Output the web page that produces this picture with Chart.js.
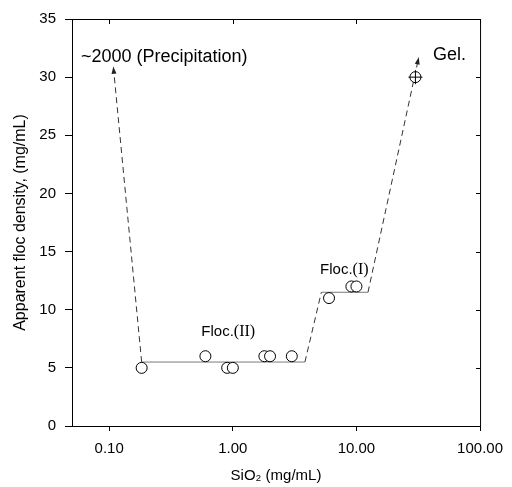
<!DOCTYPE html>
<html>
<head>
<meta charset="utf-8">
<script src="https://cdn.jsdelivr.net/npm/chart.js@4.4.1/dist/chart.umd.min.js"></script>
<style>
  html, body { margin: 0; padding: 0; background: #fff; }
  canvas { display: block; }
</style>
</head>
<body>
<canvas id="chart" width="512" height="487"></canvas>
<script>
// measured points
const silica = [0.183, 0.6, 0.9, 1.0, 1.8, 2.0, 3.0, 6.0, 9.1, 10.0, 30];
const density = [5, 6, 5, 5, 6, 6, 6, 11, 12, 12, 30];

// guide lines drawn through the data
const plateauIIx = [0.183, 3.83];
const plateauIIy = [5.5, 5.5];
const riseIIx = [3.83, 5.2];
const riseIIy = [5.5, 11.5];
const plateauIx = [5.2, 12.4];
const plateauIy = [11.5, 11.5];
const gelX = [12.4, 31.9];
const gelY = [11.5, 31.7];
const precipX = [0.183, 0.108];
const precipY = [5.5, 30.9];

const xTicks = [0.1, 1, 10, 100];
const yTicks = [0, 5, 10, 15, 20, 25, 30, 35];

const pts = (xs, ys) => xs.map((x, i) => ({ x: x, y: ys[i] }));

const FONT = "'Liberation Sans', Arial, sans-serif";

function lineSet(xs, ys, color, dashed, arrow) {
  return {
    data: pts(xs, ys),
    showLine: true,
    borderColor: color,
    borderWidth: 1,
    borderDash: dashed ? [6, 4] : [],
    pointRadius: 0,
    pointHoverRadius: 0,
    arrow: arrow,
    order: 2
  };
}

const extras = {
  id: "extras",
  afterDatasetsDraw(chart) {
    const ctx = chart.ctx;
    const xs = chart.scales.x, ys = chart.scales.y;
    const a = chart.chartArea;

    // arrow heads
    chart.data.datasets.forEach((ds, i) => {
      if (!ds.arrow) return;
      const els = chart.getDatasetMeta(i).data;
      const p0 = els[els.length - 2], p1 = els[els.length - 1];
      const ang = Math.atan2(p1.y - p0.y, p1.x - p0.x);
      ctx.save();
      ctx.translate(p1.x, p1.y);
      ctx.rotate(ang);
      ctx.fillStyle = "#222";
      ctx.beginPath();
      ctx.moveTo(0, 0);
      ctx.lineTo(-7, -2.5);
      ctx.lineTo(-7, 2.5);
      ctx.closePath();
      ctx.fill();
      ctx.restore();
    });

    // frame on top and right, with inward ticks
    ctx.save();
    ctx.strokeStyle = "#000";
    ctx.lineWidth = 1;
    ctx.beginPath();
    ctx.moveTo(a.left, a.top + 0.5);
    ctx.lineTo(a.right + 0.5, a.top + 0.5);
    ctx.lineTo(a.right + 0.5, a.bottom);
    xTicks.forEach(v => {
      const px = Math.round(xs.getPixelForValue(v)) + 0.5;
      ctx.moveTo(px, a.top);
      ctx.lineTo(px, a.top + 5);
    });
    yTicks.forEach(v => {
      const py = Math.round(ys.getPixelForValue(v)) + 0.5;
      ctx.moveTo(a.right, py);
      ctx.lineTo(a.right - 4, py);
    });
    ctx.stroke();

    // annotations
    ctx.fillStyle = "#000";
    ctx.textBaseline = "middle";
    ctx.textAlign = "left";
    ctx.font = "18px " + FONT;
    ctx.fillText("~2000 (Precipitation)", xs.getPixelForValue(0.059), ys.getPixelForValue(31.7));
    ctx.fillText("Gel.", xs.getPixelForValue(41.7), ys.getPixelForValue(31.9));

    const floc = (x, y, num) => {
      let px = xs.getPixelForValue(x);
      const py = ys.getPixelForValue(y);
      ctx.font = "15px " + FONT;
      ctx.fillText("Floc.", px, py);
      px += ctx.measureText("Floc.").width;
      ctx.font = "16px 'Liberation Serif', 'Times New Roman', serif";
      ctx.fillText("(" + num + ")", px, py);
    };
    floc(0.556, 8.1, "II");
    floc(5.08, 13.4, "I");
    ctx.restore();
  }
};

new Chart(document.getElementById("chart"), {
  type: "scatter",
  data: {
    datasets: [
      lineSet(plateauIIx, plateauIIy, "#7a7a7a", false, false),
      lineSet(riseIIx, riseIIy, "#333", true, false),
      lineSet(plateauIx, plateauIy, "#7a7a7a", false, false),
      lineSet(gelX, gelY, "#333", true, true),
      lineSet(precipX, precipY, "#333", true, true),
      {
        data: pts(silica, density),
        pointStyle: "circle",
        pointRadius: 5.5,
        pointBackgroundColor: "#fff",
        pointBorderColor: "#000",
        pointBorderWidth: 1,
        order: 1
      },
      {
        data: pts([silica[silica.length - 1]], [density[density.length - 1]]),
        pointStyle: "cross",
        pointRadius: 7,
        pointBorderColor: "#000",
        pointBorderWidth: 1,
        order: 0
      }
    ]
  },
  options: {
    responsive: false,
    devicePixelRatio: 1,
    animation: false,
    layout: { padding: { left: 0, top: 19, right: 26, bottom: 0 } },
    plugins: { legend: { display: false }, tooltip: { enabled: false } },
    scales: {
      x: {
        type: "logarithmic",
        min: 0.05,
        max: 100,
        afterBuildTicks: s => { s.ticks = xTicks.map(v => ({ value: v })); },
        afterFit: s => { s.height = 61; },
        grid: { drawOnChartArea: false, tickLength: 5, color: "#000" },
        border: { color: "#000", width: 1 },
        ticks: {
          color: "#000",
          font: { family: FONT, size: 15 },
          padding: 9,
          maxRotation: 0,
          callback: v => Number(v).toFixed(2)
        },
        title: {
          display: true,
          text: "SiO\u2082 (mg/mL)",
          color: "#000",
          font: { family: FONT, size: 15 },
          padding: { top: 0, bottom: 2 }
        }
      },
      y: {
        min: 0,
        max: 35,
        afterBuildTicks: s => { s.ticks = yTicks.map(v => ({ value: v })); },
        afterFit: s => { s.width = 72; },
        grid: { drawOnChartArea: false, tickLength: 7, color: "#000" },
        border: { color: "#000", width: 1 },
        ticks: {
          color: "#000",
          font: { family: FONT, size: 15 },
          padding: 9
        },
        title: {
          display: true,
          text: "Apparent floc density, (mg/mL)",
          color: "#000",
          font: { family: FONT, size: 16 },
          padding: { top: 11, bottom: 0 }
        }
      }
    }
  },
  plugins: [extras]
});
</script>
</body>
</html>
